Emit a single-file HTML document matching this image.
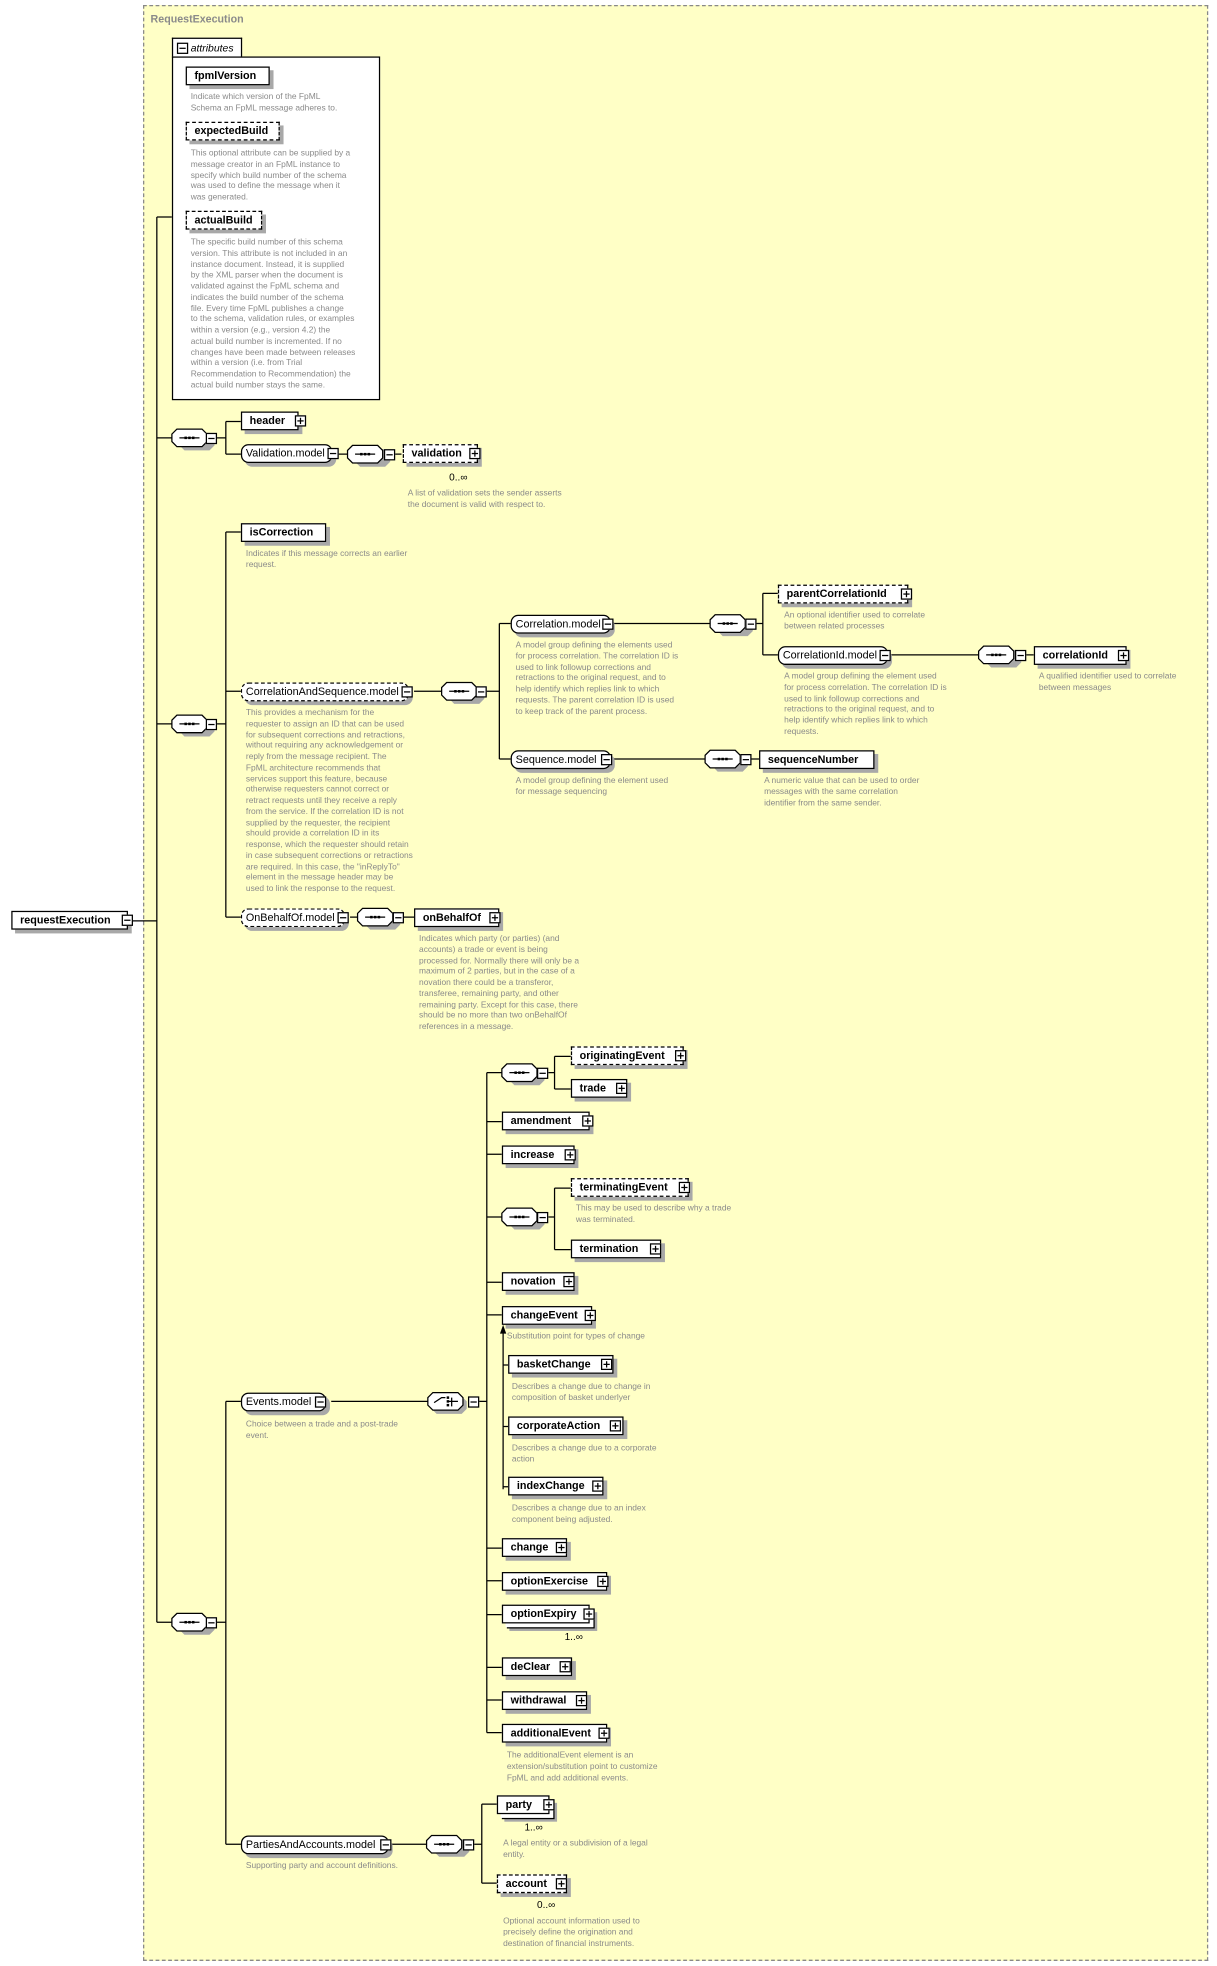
<!DOCTYPE html>
<html><head><meta charset="utf-8"><style>
html,body{margin:0;padding:0;background:#fff;}
#wrap{position:relative;width:970px;height:1567px;transform:scale(1.25464,1.2546);transform-origin:0 0;font-family:"Liberation Sans",sans-serif;}
.bg{position:absolute;left:114px;top:4px;width:849px;height:1559px;background:#ffffc6;border:1px dashed #888;box-sizing:border-box;}
.e{position:absolute;height:15px;border:1px solid #000;background:#fff;box-shadow:3px 3px 0 #a8a8a8;font-weight:bold;font-size:8.6px;line-height:13px;padding-left:6px;box-sizing:border-box;white-space:nowrap;}
.d{border-style:dashed;}
.m{border-radius:6px;font-weight:normal;padding-left:3px;}
.st{box-shadow:3px 3px 0 #fff,4px 4px 0 #000,6px 6px 0 #a8a8a8;}
.pm{position:absolute;width:9px;height:9px;border:1px solid #000;background:#fff;box-sizing:border-box;}
.pm::before{content:"";position:absolute;left:1px;top:3px;width:5px;height:1px;background:#000;}
.p::after{content:"";position:absolute;left:3px;top:1px;width:1px;height:5px;background:#000;}
.t{position:absolute;color:#8a8a8a;font-size:6.7px;line-height:8.75px;white-space:nowrap;}
.c{position:absolute;font-size:8px;color:#000;}
svg{position:absolute;left:0;top:0;}
</style></head><body><div id="wrap">
<div class="bg"></div>
<div style="position:absolute;left:120px;top:10px;font-size:8.5px;font-weight:bold;color:#8a8a8a">RequestExecution</div>
<svg width="970" height="1567">
<g stroke="#000" stroke-width="1" fill="none">
<path d="M106 734H125M125 173V1293M125 173H137M125 349H137M125 577H137M125 1293H137"/>
<path d="M172 349H180M180 336V362M180 336H192M180 362H192M269 362H277M314 362H320"/>
<path d="M172 577H180M180 424V731M180 424H192M180 551H192M180 731H192M330 551H352M387 551H398M398 497V605M398 497H407M398 605H407M489 497H566M603 497H608M608 473V522M608 473H620M608 522H620M710 522H780M817 522H824M487 605H562M598 605H605M279 731H285M322 731H330"/>
<path d="M172 1293H180M180 1117V1470M180 1117H192M180 1470H192M264 1117H345M381 1117H388M388 855V1381M437 855H442M442 842V868M442 842H455M442 868H455M437 970H442M442 947V996M442 947H455M442 996H455"/>
<path d="M388 855H400M388 894H400M388 920H400M388 970H400M388 1022H400M388 1048H400M388 1234H400M388 1260H400M388 1287H400M388 1329H400M388 1355H400M388 1381H400"/>
<path d="M401 1062V1187M401 1088H405M401 1137H405M401 1185H405"/>
<path d="M312 1470H340M377 1470H384M384 1438V1501M384 1438H396M384 1501H396"/>
</g>
<path d="M401 1056L398.5 1063H403.5Z" fill="#000"/>
<g id="comp">
</g>
</svg>
<svg width="970" height="1567">
<defs><g id="oc"><polygon points="7,0 27,0 31,4 31,10 27,14 7,14 3,10 3,4" transform="translate(3,3)" fill="#a8a8a8"/><polygon points="4,0 24,0 28,4 28,10 24,14 4,14 0,10 0,4" fill="#fff" stroke="#000"/><path d="M6 7H22" stroke="#000"/><rect x="10" y="6" width="2" height="2" fill="#000"/><rect x="13" y="6" width="2" height="2" fill="#000"/><rect x="16" y="6" width="2" height="2" fill="#000"/></g></defs>
<use href="#oc" x="137" y="342"/><use href="#oc" x="277" y="355"/>
<use href="#oc" x="137" y="570"/><use href="#oc" x="352" y="544"/><use href="#oc" x="566" y="490"/><use href="#oc" x="780" y="515"/><use href="#oc" x="562" y="598"/><use href="#oc" x="285" y="724"/>
<use href="#oc" x="137" y="1286"/><use href="#oc" x="400" y="848"/><use href="#oc" x="400" y="963"/><use href="#oc" x="340" y="1463"/>
<g><polygon points="348,1113 368,1113 372,1117 372,1123 368,1127 348,1127 344,1123 344,1117" fill="#a8a8a8"/><polygon points="345,1110 365,1110 369,1114 369,1120 365,1124 345,1124 341,1120 341,1114" fill="#fff" stroke="#000"/><path d="M346 1118L352 1114H355M357 1117H365M360 1114V1121" stroke="#000" fill="none"/><rect x="356" y="1113" width="2" height="2"/><rect x="356" y="1116" width="2" height="2"/><rect x="356" y="1119" width="2" height="2"/></g>
</svg>
<!-- minus boxes for compositors -->
<div class="pm" style="left:164px;top:345px"></div><div class="pm" style="left:306px;top:358px"></div>
<div class="pm" style="left:164px;top:573px"></div><div class="pm" style="left:379px;top:547px"></div><div class="pm" style="left:594px;top:493px"></div><div class="pm" style="left:809px;top:518px"></div><div class="pm" style="left:590px;top:601px"></div><div class="pm" style="left:313px;top:727px"></div>
<div class="pm" style="left:164px;top:1289px"></div><div class="pm" style="left:428px;top:851px"></div><div class="pm" style="left:428px;top:966px"></div><div class="pm" style="left:373px;top:1113px"></div><div class="pm" style="left:369px;top:1466px"></div>

<!-- root -->
<div class="e" style="left:9px;top:726px;width:93px;">requestExecution</div><div class="pm" style="left:97px;top:729px"></div>

<!-- attributes -->
<div style="position:absolute;left:137px;top:30px;width:56px;height:16px;border:1px solid #000;border-bottom:none;background:#fff;box-sizing:border-box;font-size:8.3px;font-style:italic;line-height:14px;padding-left:14px">attributes</div>
<div class="pm" style="left:141px;top:34px"></div>
<div style="position:absolute;left:137px;top:45px;width:166px;height:274px;border:1px solid #000;background:#fff;box-sizing:border-box"></div>
<div class="e" style="left:148px;top:53px;width:67px;">fpmlVersion</div>
<div class="t" style="left:152px;top:74px">Indicate which version of the FpML<br>Schema an FpML message adheres to.</div>
<div class="e d" style="left:148px;top:97px;width:75px;">expectedBuild</div>
<div class="t" style="left:152px;top:119px">This optional attribute can be supplied by a<br>message creator in an FpML instance to<br>specify which build number of the schema<br>was used to define the message when it<br>was generated.</div>
<div class="e d" style="left:148px;top:168px;width:61px;">actualBuild</div>
<div class="t" style="left:152px;top:190px">The specific build number of this schema<br>version. This attribute is not included in an<br>instance document. Instead, it is supplied<br>by the XML parser when the document is<br>validated against the FpML schema and<br>indicates the build number of the schema<br>file. Every time FpML publishes a change<br>to the schema, validation rules, or examples<br>within a version (e.g., version 4.2) the<br>actual build number is incremented. If no<br>changes have been made between releases<br>within a version (i.e. from Trial<br>Recommendation to Recommendation) the<br>actual build number stays the same.</div>

<!-- header group -->
<div class="e" style="left:192px;top:328px;width:46px;">header</div><div class="pm p" style="left:235px;top:331px"></div>
<div class="e m" style="left:192px;top:354px;width:73px;">Validation.model</div><div class="pm" style="left:261px;top:357px"></div>
<div class="e d" style="left:321px;top:354px;width:60px;">validation</div><div class="pm p" style="left:374px;top:357px"></div>
<div class="c" style="left:358px;top:376px">0..∞</div>
<div class="t" style="left:325px;top:390px">A list of validation sets the sender asserts<br>the document is valid with respect to.</div>

<!-- correlation group -->
<div class="e" style="left:192px;top:417px;width:68px;">isCorrection</div>
<div class="t" style="left:196px;top:438px">Indicates if this message corrects an earlier<br>request.</div>
<div class="e m d" style="left:192px;top:544px;width:134px;">CorrelationAndSequence.model</div><div class="pm" style="left:320px;top:547px"></div>
<div class="t" style="left:196px;top:565px">This provides a mechanism for the<br>requester to assign an ID that can be used<br>for subsequent corrections and retractions,<br>without requiring any acknowledgement or<br>reply from the message recipient. The<br>FpML architecture recommends that<br>services support this feature, because<br>otherwise requesters cannot correct or<br>retract requests until they receive a reply<br>from the service. If the correlation ID is not<br>supplied by the requester, the recipient<br>should provide a correlation ID in its<br>response, which the requester should retain<br>in case subsequent corrections or retractions<br>are required. In this case, the "inReplyTo"<br>element in the message header may be<br>used to link the response to the request.</div>
<div class="e m" style="left:407px;top:490px;width:80px;">Correlation.model</div><div class="pm" style="left:480px;top:493px"></div>
<div class="t" style="left:411px;top:511px">A model group defining the elements used<br>for process correlation. The correlation ID is<br>used to link followup corrections and<br>retractions to the original request, and to<br>help identify which replies link to which<br>requests. The parent correlation ID is used<br>to keep track of the parent process.</div>
<div class="e d" style="left:620px;top:466px;width:104px;">parentCorrelationId</div><div class="pm p" style="left:718px;top:469px"></div>
<div class="t" style="left:625px;top:487px">An optional identifier used to correlate<br>between related processes</div>
<div class="e m" style="left:620px;top:515px;width:88px;">CorrelationId.model</div><div class="pm" style="left:701px;top:518px"></div>
<div class="t" style="left:625px;top:536px">A model group defining the element used<br>for process correlation. The correlation ID is<br>used to link followup corrections and<br>retractions to the original request, and to<br>help identify which replies link to which<br>requests.</div>
<div class="e" style="left:824px;top:515px;width:74px;">correlationId</div><div class="pm p" style="left:891px;top:518px"></div>
<div class="t" style="left:828px;top:536px">A qualified identifier used to correlate<br>between messages</div>
<div class="e m" style="left:407px;top:598px;width:80px;">Sequence.model</div><div class="pm" style="left:479px;top:601px"></div>
<div class="t" style="left:411px;top:619px">A model group defining the element used<br>for message sequencing</div>
<div class="e" style="left:605px;top:598px;width:92px;">sequenceNumber</div>
<div class="t" style="left:609px;top:619px">A numeric value that can be used to order<br>messages with the same correlation<br>identifier from the same sender.</div>
<div class="e m d" style="left:192px;top:724px;width:83px;">OnBehalfOf.model</div><div class="pm" style="left:269px;top:727px"></div>
<div class="e" style="left:330px;top:724px;width:68px;">onBehalfOf</div><div class="pm p" style="left:390px;top:727px"></div>
<div class="t" style="left:334px;top:745px">Indicates which party (or parties) (and<br>accounts) a trade or event is being<br>processed for. Normally there will only be a<br>maximum of 2 parties, but in the case of a<br>novation there could be a transferor,<br>transferee, remaining party, and other<br>remaining party. Except for this case, there<br>should be no more than two onBehalfOf<br>references in a message.</div>

<!-- events -->
<div class="e m" style="left:192px;top:1110px;width:68px;">Events.model</div><div class="pm" style="left:251px;top:1113px"></div>
<div class="t" style="left:196px;top:1132px">Choice between a trade and a post-trade<br>event.</div>
<div class="e d" style="left:455px;top:834px;width:90px;">originatingEvent</div><div class="pm p" style="left:538px;top:837px"></div>
<div class="e" style="left:455px;top:860px;width:45px;">trade</div><div class="pm p" style="left:491px;top:863px"></div>
<div class="e" style="left:400px;top:886px;width:70px;">amendment</div><div class="pm p" style="left:464px;top:889px"></div>
<div class="e" style="left:400px;top:913px;width:58px;">increase</div><div class="pm p" style="left:450px;top:916px"></div>
<div class="e d" style="left:455px;top:939px;width:94px;">terminatingEvent</div><div class="pm p" style="left:541px;top:942px"></div>
<div class="t" style="left:459px;top:960px">This may be used to describe why a trade<br>was terminated.</div>
<div class="e" style="left:455px;top:988px;width:72px;">termination</div><div class="pm p" style="left:518px;top:991px"></div>
<div class="e" style="left:400px;top:1014px;width:58px;">novation</div><div class="pm p" style="left:449px;top:1017px"></div>
<div class="e" style="left:400px;top:1041px;width:72px;">changeEvent</div><div class="pm p" style="left:466px;top:1044px"></div>
<div class="t" style="left:404px;top:1062px">Substitution point for types of change</div>
<div class="e" style="left:405px;top:1080px;width:84px;">basketChange</div><div class="pm p" style="left:479px;top:1083px"></div>
<div class="t" style="left:408px;top:1102px">Describes a change due to change in<br>composition of basket underlyer</div>
<div class="e" style="left:405px;top:1129px;width:92px;">corporateAction</div><div class="pm p" style="left:486px;top:1132px"></div>
<div class="t" style="left:408px;top:1151px">Describes a change due to a corporate<br>action</div>
<div class="e" style="left:405px;top:1177px;width:76px;">indexChange</div><div class="pm p" style="left:472px;top:1180px"></div>
<div class="t" style="left:408px;top:1199px">Describes a change due to an index<br>component being adjusted.</div>
<div class="e" style="left:400px;top:1226px;width:52px;">change</div><div class="pm p" style="left:443px;top:1229px"></div>
<div class="e" style="left:400px;top:1253px;width:84px;">optionExercise</div><div class="pm p" style="left:476px;top:1256px"></div>
<div class="e st" style="left:400px;top:1279px;width:70px;">optionExpiry</div><div class="pm p" style="left:465px;top:1282px"></div>
<div class="c" style="left:450px;top:1300px">1..∞</div>
<div class="e" style="left:400px;top:1321px;width:56px;">deClear</div><div class="pm p" style="left:446px;top:1324px"></div>
<div class="e" style="left:400px;top:1348px;width:68px;">withdrawal</div><div class="pm p" style="left:459px;top:1351px"></div>
<div class="e" style="left:400px;top:1374px;width:84px;">additionalEvent</div><div class="pm p" style="left:477px;top:1377px"></div>
<div class="t" style="left:404px;top:1396px">The additionalEvent element is an<br>extension/substitution point to customize<br>FpML and add additional events.</div>

<!-- parties -->
<div class="e m" style="left:192px;top:1463px;width:118px;">PartiesAndAccounts.model</div><div class="pm" style="left:303px;top:1466px"></div>
<div class="t" style="left:196px;top:1484px">Supporting party and account definitions.</div>
<div class="e st" style="left:396px;top:1431px;width:42px;">party</div><div class="pm p" style="left:433px;top:1434px"></div>
<div class="c" style="left:418px;top:1452px">1..∞</div>
<div class="t" style="left:401px;top:1466px">A legal entity or a subdivision of a legal<br>entity.</div>
<div class="e d" style="left:396px;top:1494px;width:56px;">account</div><div class="pm p" style="left:443px;top:1497px"></div>
<div class="c" style="left:428px;top:1514px">0..∞</div>
<div class="t" style="left:401px;top:1528px">Optional account information used to<br>precisely define the origination and<br>destination of financial instruments.</div>
</div></body></html>
